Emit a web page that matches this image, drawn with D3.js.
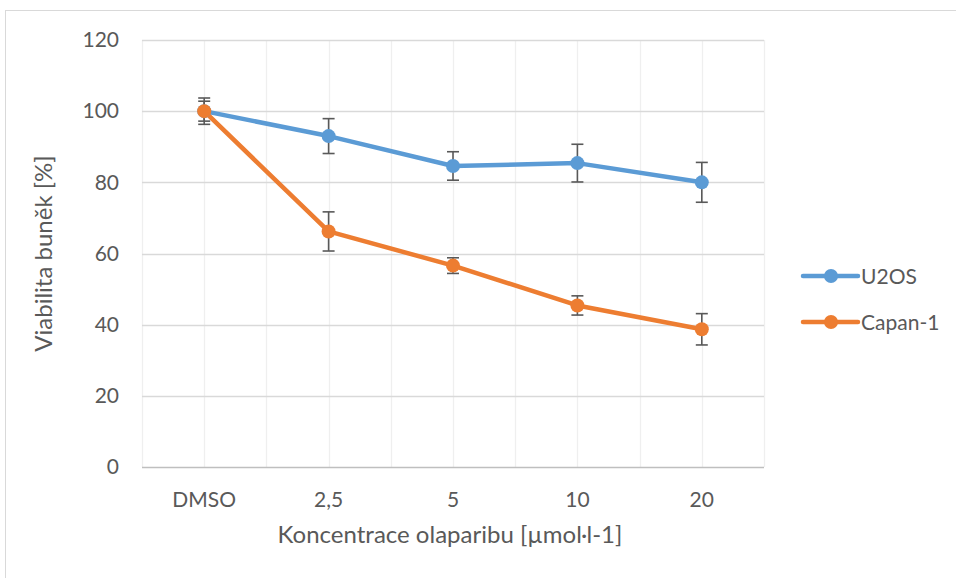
<!DOCTYPE html>
<html>
<head>
<meta charset="utf-8">
<script src="https://cdn.jsdelivr.net/npm/d3@7"></script>
<style>
  html, body { margin: 0; padding: 0; background: #fff; }
  svg { display: block; font-family: Lato, "Open Sans", sans-serif; }
</style>
</head>
<body>
<svg id="chart" width="956" height="578"></svg>
<script>
'use strict';

const categories = ['DMSO', '2,5', '5', '10', '20'];
const seriesNames = ['U2OS', 'Capan-1'];
const u2osValues = [100, 93.0, 84.6, 85.4, 80.0];
const u2osErrors = [3.7, 4.9, 4.0, 5.3, 5.6];
const capanValues = [100, 66.2, 56.6, 45.4, 38.7];
const capanErrors = [2.8, 5.5, 2.2, 2.7, 4.4];
const yTicks = [0, 20, 40, 60, 80, 100, 120];

const colors = ['#5B9BD5', '#ED7D31'];
const series = [
    {name: seriesNames[0], values: u2osValues, errors: u2osErrors, color: colors[0]},
    {name: seriesNames[1], values: capanValues, errors: capanErrors, color: colors[1]}
];

const svg = d3.select('#chart');
const margin = {left: 142, right: 192, top: 40, bottom: 111};
const width = 956 - margin.left - margin.right;
const height = 578 - margin.top - margin.bottom;
const textColor = '#595959';

// chart border
svg.append('rect')
    .attr('x', 5.5).attr('y', 10.5)
    .attr('width', 960).attr('height', 600)
    .attr('fill', 'none')
    .attr('stroke', '#d9d9d9');

const g = svg.append('g').attr('transform', `translate(${margin.left},${margin.top})`);

const x = d3.scaleBand().domain(categories).range([0, width]);
const y = d3.scaleLinear().domain([0, 120]).range([height, 0]);
const cx = (c) => x(c) + x.bandwidth() / 2;

// vertical gridlines at band edges and centers
const vLines = [];
categories.forEach((c) => { vLines.push(x(c)); vLines.push(cx(c)); });
vLines.push(width);
g.append('g').selectAll('line')
    .data(vLines)
    .enter().append('line')
    .attr('x1', (d) => Math.round(d) + 0.5).attr('x2', (d) => Math.round(d) + 0.5)
    .attr('y1', 0).attr('y2', height)
    .attr('stroke', '#efefef')
    .attr('stroke-width', 1.3);

// horizontal gridlines
g.append('g').selectAll('line')
    .data(yTicks.filter((t) => t > 0))
    .enter().append('line')
    .attr('x1', 0).attr('x2', width)
    .attr('y1', (d) => Math.round(y(d)) + 0.5).attr('y2', (d) => Math.round(y(d)) + 0.5)
    .attr('stroke', '#d9d9d9')
    .attr('stroke-width', 1.3);

// x axis line
g.append('line')
    .attr('x1', 0).attr('x2', width)
    .attr('y1', height + 0.5).attr('y2', height + 0.5)
    .attr('stroke', '#bfbfbf')
    .attr('stroke-width', 1.3);

// y tick labels
const yAxis = g.append('g')
    .call(d3.axisLeft(y).tickValues(yTicks).tickSize(0).tickPadding(23));
yAxis.select('.domain').remove();
yAxis.selectAll('text')
    .attr('fill', textColor)
    .style('font-size', '21px')
    .style('font-family', 'Lato, "Open Sans", sans-serif');

// x tick labels
const xAxis = g.append('g')
    .attr('transform', `translate(0,${height})`)
    .call(d3.axisBottom(x).tickSize(0).tickPadding(25));
xAxis.select('.domain').remove();
xAxis.selectAll('text')
    .attr('fill', textColor)
    .style('font-size', '21px')
    .style('font-family', 'Lato, "Open Sans", sans-serif');

// axis titles
svg.append('text')
    .attr('x', 450).attr('y', 543)
    .attr('text-anchor', 'middle')
    .attr('fill', textColor)
    .style('font-size', '24px')
    .text('Koncentrace olaparibu [µmol·l-1]');

svg.append('text')
    .attr('transform', `translate(52,${margin.top + height / 2}) rotate(-90)`)
    .attr('text-anchor', 'middle')
    .attr('fill', textColor)
    .style('font-size', '24px')
    .text('Viabilita buněk [%]');

const line = d3.line()
    .x((d, i) => cx(categories[i]))
    .y((d) => y(d));

series.forEach((s) => {
    g.append('path')
        .datum(s.values)
        .attr('d', line)
        .attr('fill', 'none')
        .attr('stroke', s.color)
        .attr('stroke-width', 4.5)
        .attr('stroke-linejoin', 'round');
});

// error bars
series.forEach((s) => {
    const eb = g.append('g')
        .attr('stroke', textColor)
        .attr('stroke-width', 1.6)
        .selectAll('g')
        .data(s.values.map((v, i) => ({c: categories[i], v: v, e: s.errors[i]})))
        .enter().append('g');
    eb.append('line')
        .attr('x1', (d) => cx(d.c)).attr('x2', (d) => cx(d.c))
        .attr('y1', (d) => y(d.v + d.e)).attr('y2', (d) => y(d.v - d.e));
    [1, -1].forEach((sign) => {
        eb.append('line')
            .attr('x1', (d) => cx(d.c) - 6).attr('x2', (d) => cx(d.c) + 6)
            .attr('y1', (d) => y(d.v + sign * d.e)).attr('y2', (d) => y(d.v + sign * d.e));
    });
});

// markers
series.forEach((s) => {
    g.append('g').selectAll('circle')
        .data(s.values)
        .enter().append('circle')
        .attr('cx', (d, i) => cx(categories[i]))
        .attr('cy', (d) => y(d))
        .attr('r', 7)
        .attr('fill', s.color);
});

// legend
const legend = svg.append('g')
    .selectAll('g')
    .data(series)
    .enter().append('g')
    .attr('transform', (d, i) => `translate(803,${276 + i * 46})`);
legend.append('line')
    .attr('x1', 0).attr('x2', 55)
    .attr('stroke', (d) => d.color)
    .attr('stroke-width', 4.5)
    .attr('stroke-linecap', 'round');
legend.append('circle')
    .attr('cx', 28).attr('r', 7)
    .attr('fill', (d) => d.color);
legend.append('text')
    .attr('x', 58).attr('dy', '0.36em')
    .attr('fill', textColor)
    .style('font-size', '21px')
    .text((d) => d.name);
</script>
</body>
</html>
